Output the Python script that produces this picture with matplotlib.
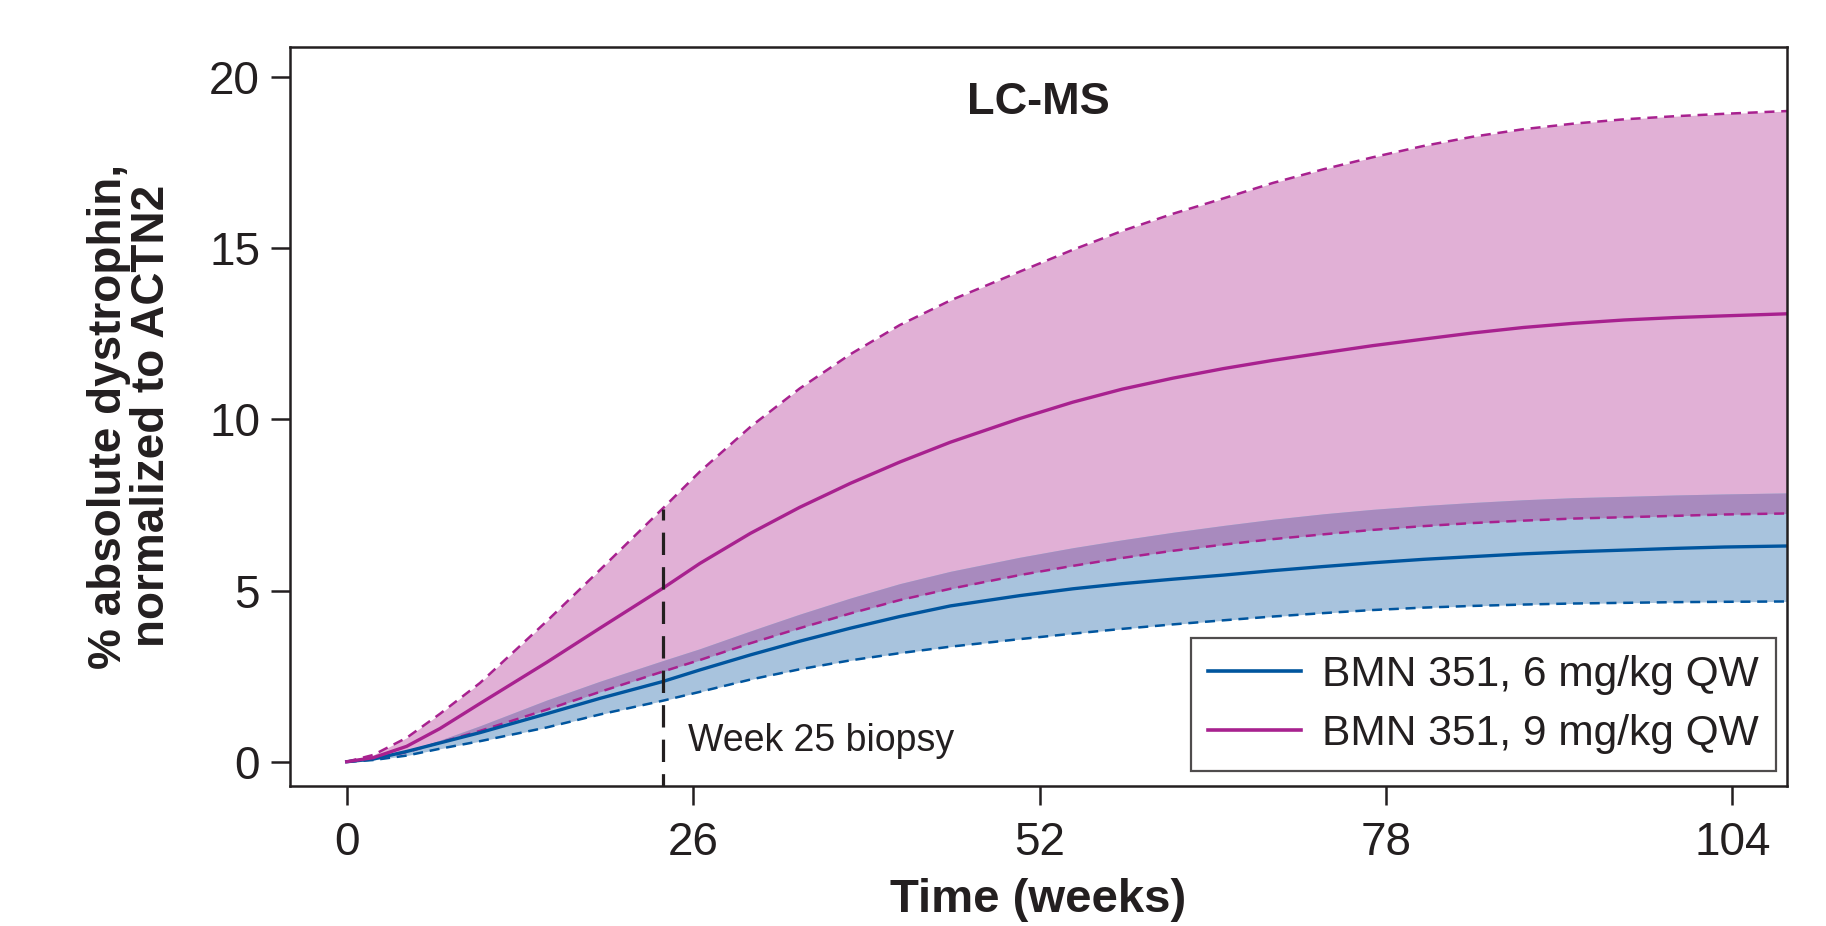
import numpy as np
import matplotlib
matplotlib.use("Agg")
import matplotlib.pyplot as plt

plt.rcParams['font.family'] = ['Liberation Sans', 'DejaVu Sans']

weeks = [0, 2, 4.5, 7, 10, 15, 19, 23.7, 26.5, 30.3, 34, 37.8, 41.5, 45.3,
         50.5, 54.5, 58.2, 62, 65.8, 69.5, 73.3, 77, 80.8, 84.5, 88.3, 92,
         95.9, 99.7, 103.4, 108.1]

# 9 mg/kg QW : median and interval
mag_mid = [0, 0.12, 0.45, 0.97, 1.7, 2.9, 3.9, 5.06, 5.79, 6.67, 7.43, 8.13,
           8.75, 9.33, 10.02, 10.5, 10.88, 11.2, 11.48, 11.72, 11.94, 12.15,
           12.34, 12.52, 12.68, 12.8, 12.9, 12.97, 13.02, 13.08]
mag_hi = [0, 0.2, 0.7, 1.4, 2.3, 4.1, 5.6, 7.39, 8.47, 9.78, 10.9, 11.9,
          12.75, 13.47, 14.31, 14.95, 15.5, 16.0, 16.45, 16.9, 17.3, 17.65,
          17.98, 18.25, 18.47, 18.63, 18.76, 18.85, 18.92, 19.0]
mag_lo = [0, 0.08, 0.28, 0.56, 0.9, 1.52, 2.04, 2.63, 2.97, 3.46, 3.9, 4.33,
          4.72, 5.05, 5.45, 5.72, 5.95, 6.16, 6.34, 6.5, 6.64, 6.77, 6.88,
          6.97, 7.04, 7.1, 7.14, 7.18, 7.22, 7.25]

# 6 mg/kg QW
blue_mid = [0, 0.08, 0.3, 0.55, 0.85, 1.4, 1.85, 2.34, 2.68, 3.12, 3.52, 3.9,
            4.24, 4.55, 4.85, 5.05, 5.2, 5.33, 5.45, 5.58, 5.7, 5.81, 5.91,
            5.99, 6.07, 6.13, 6.18, 6.23, 6.27, 6.3]
blue_hi = [0, 0.1, 0.33, 0.63, 1.05, 1.8, 2.35, 2.95, 3.3, 3.82, 4.31, 4.78,
           5.2, 5.56, 5.97, 6.25, 6.48, 6.7, 6.9, 7.08, 7.24, 7.37, 7.48,
           7.57, 7.65, 7.71, 7.75, 7.79, 7.82, 7.85]
blue_lo = [0, 0.05, 0.18, 0.38, 0.6, 1.0, 1.38, 1.78, 2.04, 2.4, 2.7, 2.96,
           3.17, 3.36, 3.58, 3.74, 3.88, 4.01, 4.13, 4.24, 4.34, 4.43, 4.5,
           4.55, 4.59, 4.62, 4.64, 4.66, 4.67, 4.68]

biopsy_week = 23.7
biopsy_top = 7.39

labels = ['BMN 351, 6 mg/kg QW', 'BMN 351, 9 mg/kg QW']
xticks = [0, 26, 52, 78, 104]
yticks = [0, 5, 10, 15, 20]

c_blue = '#00559E'
c_mag = '#A8218F'
c_pink = '#E1B0D6'
c_lblue = '#A8C3DD'
c_purple = '#A88ABE'
c_ink = '#231F20'

x = np.array(weeks)
mlo, mhi, bhi = np.array(mag_lo), np.array(mag_hi), np.array(blue_hi)

fig = plt.figure(figsize=(18.26, 9.26), dpi=100)
ax = fig.add_axes([0.1588, 0.1515, 0.8199, 0.7981])

ax.fill_between(x, mlo, mhi, color=c_pink, lw=0)
ax.fill_between(x, blue_lo, bhi, color=c_lblue, lw=0)
ax.fill_between(x, mlo, np.maximum(mlo, bhi), color=c_purple, lw=0)

dash = (4, 2.7)
ax.plot(x, blue_lo, color=c_blue, lw=1.8, dashes=dash)
ax.plot(x, mag_lo, color=c_mag, lw=1.8, dashes=dash)
ax.plot(x, mag_hi, color=c_mag, lw=1.8, dashes=dash)
ax.plot(x, blue_mid, color=c_blue, lw=2.4, label=labels[0])
ax.plot(x, mag_mid, color=c_mag, lw=2.4, label=labels[1])

# biopsy marker
ax.plot([biopsy_week, biopsy_week], [-1, biopsy_top], color=c_ink, lw=2.3,
        dashes=(7, 3.8))
ax.text(25.6, 0.6, 'Week 25 biopsy', fontsize=27, color=c_ink,
        ha='left', va='center')

ax.text(0.5, 0.909, 'LC-MS', transform=ax.transAxes, fontsize=32.5,
        fontweight='bold', color=c_ink, ha='center', va='baseline')

ax.set_xlim(-4.26, 108.1)
ax.set_ylim(-0.70, 20.88)
ax.set_xticks(xticks)
ax.set_yticks(yticks)
ax.tick_params(labelsize=33, width=1.8, length=13.5, color=c_ink,
               labelcolor=c_ink)
ax.tick_params(axis='x', pad=12)
ax.tick_params(axis='y', pad=8)
for s in ax.spines.values():
    s.set_linewidth(1.8)
    s.set_color(c_ink)

ax.set_xlabel('Time (weeks)', fontsize=34, fontweight='bold', color=c_ink,
              labelpad=9)
ax.set_ylabel('% absolute dystrophin,\nnormalized to ACTN2', fontsize=33,
              fontweight='bold', color=c_ink, linespacing=0.97, labelpad=25)

leg = ax.legend(loc='lower right', bbox_to_anchor=(0.9927, 0.02),
                borderaxespad=0, fontsize=30.6, frameon=True, fancybox=False,
                handlelength=2.2, handletextpad=0.5, labelspacing=0.45,
                borderpad=0.4)
leg.get_frame().set_edgecolor(c_ink)
leg.get_frame().set_linewidth(1.6)
for t in leg.get_texts():
    t.set_color(c_ink)
for h in leg.get_lines():
    h.set_linewidth(2.6)

fig.savefig('out.png', dpi=100)
